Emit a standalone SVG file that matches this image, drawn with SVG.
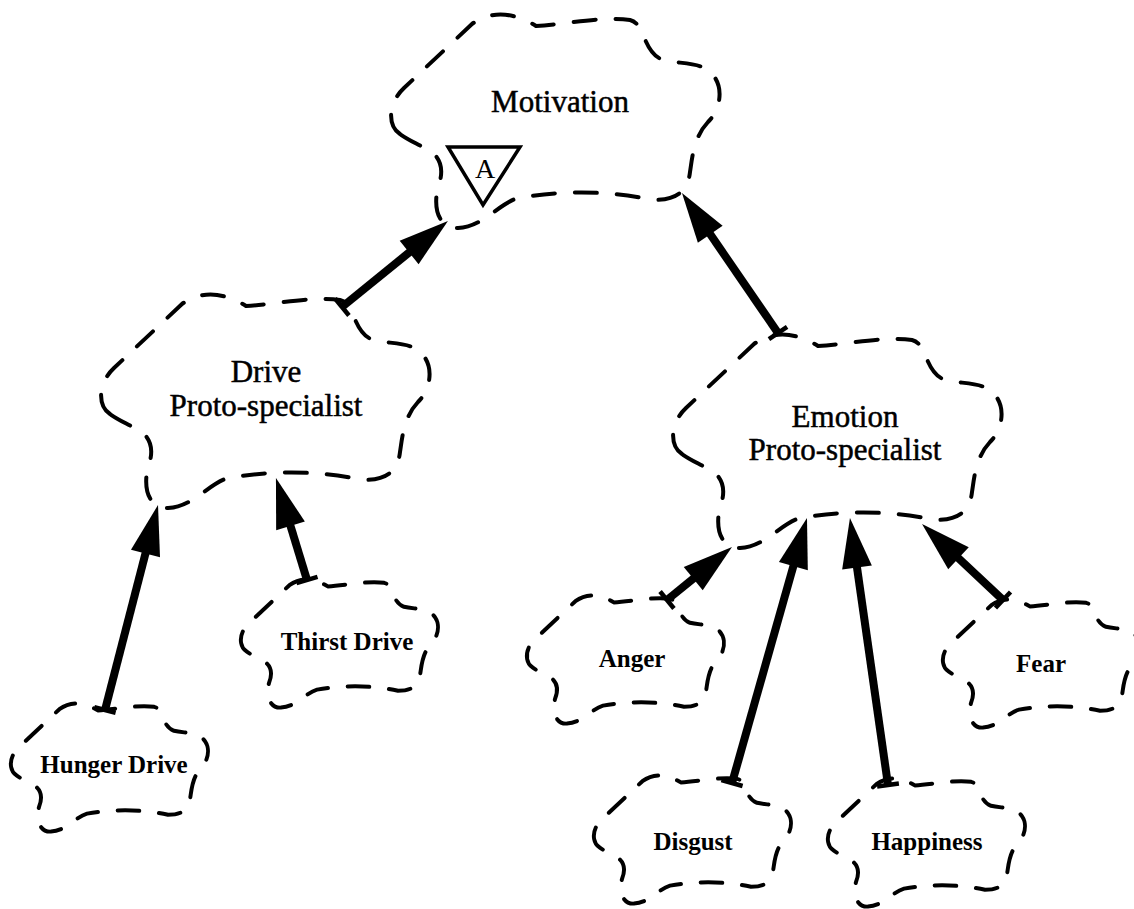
<svg xmlns="http://www.w3.org/2000/svg" xmlns:xlink="http://www.w3.org/1999/xlink" width="1134" height="909" viewBox="0 0 1134 909">
<style>
.big{fill:none;stroke:#000;stroke-width:4;stroke-dasharray:22 20;stroke-linecap:round;stroke-linejoin:round}
.small{fill:none;stroke:#000;stroke-width:6.6;stroke-dasharray:36 33;stroke-linecap:round;stroke-linejoin:round}
.t1{font-family:"Liberation Serif","Times New Roman",serif;font-size:31px;fill:#000;stroke:#000;stroke-width:0.5;text-anchor:middle}
.t2{font-family:"Liberation Serif","Times New Roman",serif;font-size:25px;font-weight:bold;fill:#000;text-anchor:middle}
.shaft{stroke:#000;stroke-width:8;fill:none;marker-end:url(#head);marker-start:url(#tail)}
</style>
<defs>
<path id="cloud" d="M 12,122 C 0,114 -1,92 16,76 L 84,12 Q 112,-8 148,14 C 180,12 215,4 242,8 C 258,12 254,40 275,48 C 292,52 312,50 322,60 C 336,72 334,96 320,110 C 305,126 304,148 302,160 C 300,178 290,188 265,188 Q 200,174 130,186 C 110,192 95,215 70,216 C 50,217 45,195 50,175 C 56,160 54,145 40,138 C 30,132 20,128 12,122 Z"/>
<marker id="head" markerUnits="userSpaceOnUse" markerWidth="60" markerHeight="40" viewBox="-12 -20 60 40" refX="0" refY="0" orient="auto" overflow="visible">
<path d="M -10,-15 L 40,0 L -10,15 Z" fill="#000"/>
</marker>
<marker id="tail" markerUnits="userSpaceOnUse" markerWidth="30" markerHeight="30" viewBox="-15 -15 30 30" refX="0" refY="0" orient="auto" overflow="visible">
<path d="M 0,-11 L 0,11" stroke="#000" stroke-width="4.5" fill="none"/>
</marker>
</defs>

<g id="motivation">
<use xlink:href="#cloud" class="big" transform="translate(388,12)"/>
<text class="t1" x="560" y="112">Motivation</text>
<polygon points="448,147 520,147 483,205" fill="none" stroke="#000" stroke-width="3.5"/>
<text x="485" y="178" font-family="Liberation Serif, Times New Roman, serif" font-size="28" text-anchor="middle">A</text>
</g>

<g id="drive">
<use xlink:href="#cloud" class="big" transform="translate(98,292)"/>
<text class="t1" x="266" y="382">Drive</text>
<text class="t1" x="266" y="416">Proto-specialist</text>
</g>

<g id="emotion">
<use xlink:href="#cloud" class="big" transform="translate(670,332)"/>
<text class="t1" x="845" y="427">Emotion</text>
<text class="t1" x="845" y="460">Proto-specialist</text>
</g>

<g id="hunger">
<use xlink:href="#cloud" class="small" transform="translate(9,702) scale(0.6)"/>
<text class="t2" x="114" y="773">Hunger Drive</text>
</g>

<g id="thirst">
<use xlink:href="#cloud" class="small" transform="translate(239,578) scale(0.6)"/>
<text class="t2" x="347" y="650">Thirst Drive</text>
</g>

<g id="anger">
<use xlink:href="#cloud" class="small" transform="translate(525,594) scale(0.6)"/>
<text class="t2" x="632" y="667">Anger</text>
</g>

<g id="fear">
<use xlink:href="#cloud" class="small" transform="translate(941,598) scale(0.6)"/>
<text class="t2" x="1041" y="672">Fear</text>
</g>

<g id="disgust">
<use xlink:href="#cloud" class="small" transform="translate(592,774) scale(0.6)"/>
<text class="t2" x="693" y="850">Disgust</text>
</g>

<g id="happiness">
<use xlink:href="#cloud" class="small" transform="translate(826,777) scale(0.6)"/>
<text class="t2" x="927" y="850">Happiness</text>
</g>

<g id="connectors">
<line class="shaft" x1="342" y1="307" x2="416.9" y2="246.2"/>
<line class="shaft" x1="778" y1="333" x2="704.6" y2="226.0"/>
<line class="shaft" x1="105" y1="710" x2="148.0" y2="543.7"/>
<line class="shaft" x1="307" y1="580" x2="287.6" y2="516.3"/>
<line class="shaft" x1="667" y1="600" x2="701.0" y2="572.3"/>
<line class="shaft" x1="732" y1="783" x2="796.1" y2="556.5"/>
<line class="shaft" x1="888" y1="785" x2="855.6" y2="557.6"/>
<line class="shaft" x1="1003" y1="600" x2="951.2" y2="551.4"/>
</g>
</svg>
